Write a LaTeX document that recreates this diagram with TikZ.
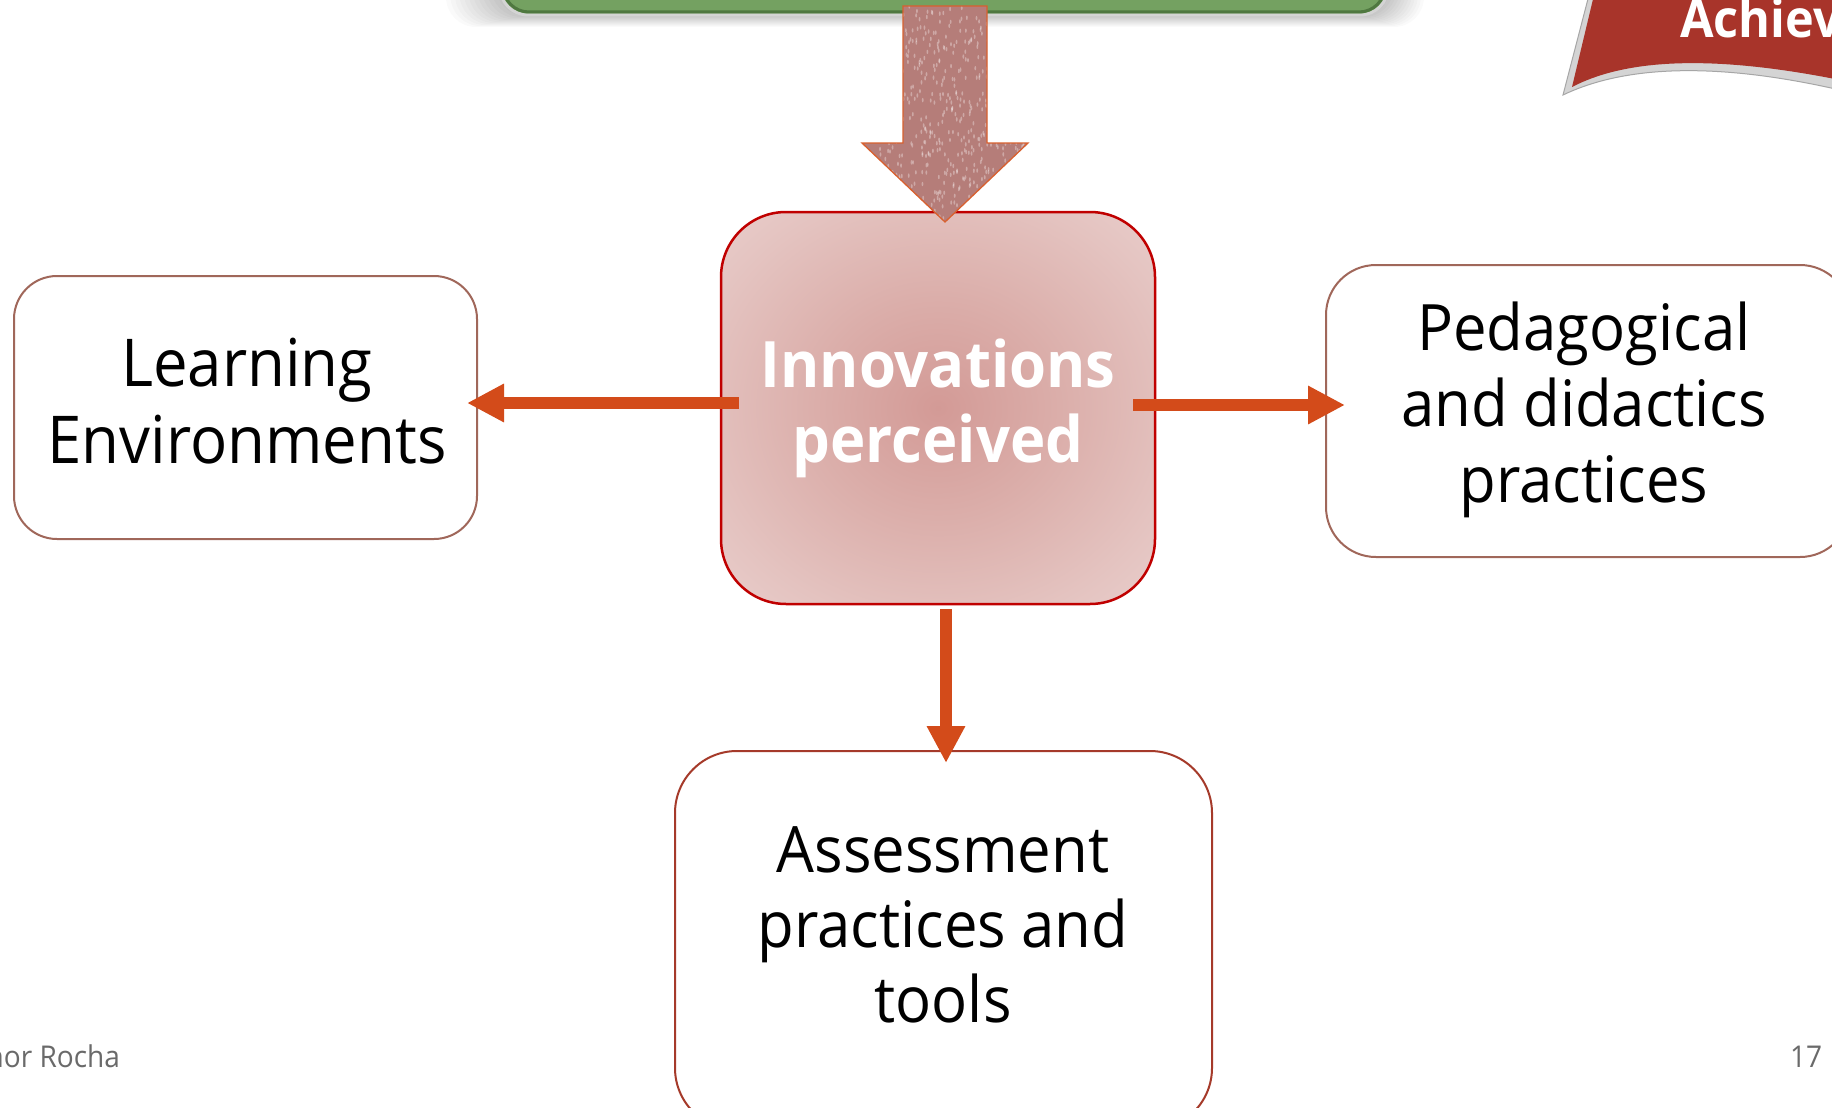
\documentclass[tikz,border=0pt]{standalone}
\usepackage{fontspec}
\setmainfont{Open Sans}[FakeStretch=0.935]
\usetikzlibrary{arrows.meta}

\definecolor{connc}{HTML}{D34B1A}
\definecolor{boxline}{HTML}{A0675A}
\definecolor{boxlinedark}{HTML}{A53A2A}
\definecolor{innline}{HTML}{C00000}
\definecolor{innin}{HTML}{D39A96}
\definecolor{innmid}{HTML}{DBAEAA}
\definecolor{innmid2}{HTML}{E4C3C0}
\definecolor{innmid3}{HTML}{EBD3D1}
\definecolor{innout}{HTML}{EEDCDB}
\definecolor{bigarrow}{HTML}{B57D79}
\definecolor{bigarrowline}{HTML}{D8602F}
\definecolor{goalfill}{HTML}{74A161}
\definecolor{goaldark}{HTML}{4F7840}
\definecolor{bannerred}{HTML}{A8342A}
\definecolor{bannerrim}{HTML}{D4D4D4}
\definecolor{footgray}{HTML}{6A6A6A}

\pgfdeclareradialshading{innshade}{\pgfpoint{0bp}{0bp}}{%
  color(0bp)=(innin); color(14bp)=(innmid); color(28bp)=(innmid2);
  color(40bp)=(innmid3); color(50bp)=(innout)}

% centred lines whose base is the baseline of the first line
\newcommand\stacklines[2]{\vtop{\baselineskip=#1\lineskiplimit=-100pt\lineskip=0pt
  \halign{\hfil##\hfil\cr#2\crcr}}}

\tikzset{
  roundbox/.style={draw=boxline, line width=2pt, fill=white, inner sep=0pt, outer sep=0pt},
  innbox/.style={draw=innline, line width=2.5pt, shading=innshade, inner sep=0pt,
    outer sep=0pt, rounded corners=65pt, minimum width=434pt, minimum height=392pt},
  txt/.style={inner sep=0pt, outer sep=0pt, anchor=base, text=black},
  conn/.style={draw=connc, line width=12pt,
    -{Triangle[length=37pt, width=36pt]}},
  foot/.style={inner sep=0pt, outer sep=0pt, text=footgray,
    font=\fontsize{30}{36}\selectfont},
}

\begin{document}
\begin{tikzpicture}[x=1pt, y=-1pt]
\useasboundingbox (0,0) rectangle (1832,1108);
\clip (0,0) rectangle (1832,1108);
\fill[white] (0,0) rectangle (1832,1108);

% soft shadow under the green goal box
\foreach \i in {1,...,12}{
  \fill[black, opacity=0.018, rounded corners=30pt]
    (500-4.5*\i,-60) rectangle (1388+3*\i,15+1.0*\i);
}
% green goal box
\node[draw=bannerrim, line width=3pt, fill=goalfill, rounded corners=28pt,
  minimum width=888pt, minimum height=80pt, inner sep=0pt] (goal) at (944,-25) {};
\draw[goaldark, line width=3pt, rounded corners=26pt]
  (503,-20) -- (503,12) -- (1385,12) -- (1385,-20);

% banner in the upper right corner
\fill[bannerrim, draw=gray!70, line width=1pt]
  (1589,-5) -- (1563,95) .. controls (1615,70) and (1700,58) .. (1840,90)
  -- (1840,-5) -- cycle;
\fill[bannerred]
  (1594,-5) -- (1572,87) .. controls (1620,62) and (1700,52) .. (1840,80)
  -- (1840,-5) -- cycle;
\node[inner sep=0pt, anchor=base west, text=white,
  font=\fontsize{52}{60}\selectfont\bfseries] (banner) at (1680,38) {Achiev};

% boxes
\node[roundbox, rounded corners=43pt, minimum width=463pt, minimum height=263pt]
  (learn) at (245.5,407.5) {};
\node[roundbox, rounded corners=50pt, minimum width=524pt, minimum height=292pt]
  (ped) at (1588,411) {};
\node[roundbox, draw=boxlinedark, rounded corners=62pt, minimum width=537pt,
  minimum height=379pt] (assess) at (943.5,940.5) {};
\node[innbox] (inn) at (938,408) {};

% box texts
\node[txt] (learn-t) at (247,386)
  {\fontsize{66}{77}\selectfont\stacklines{77pt}{Learning\cr Environments}};
\node[txt] (ped-t) at (1584,350)
  {\fontsize{64}{76}\selectfont\stacklines{76pt}{Pedagogical\cr and didactics\cr practices}};
\node[txt] (assess-t) at (943,872)
  {\fontsize{64}{75}\selectfont\stacklines{75pt}{Assessment\cr practices and\cr tools}};
\node[txt, text=white] (inn-t) at (938,387)
  {\fontsize{64}{75}\selectfont\bfseries\stacklines{75pt}{Innovations\cr perceived}};

% block arrow from the goal box down to the central box
\def\bigarrowpath{(903,6) -- (987,6) -- (987,143) -- (1028,143) -- (945,222)
  -- (862,143) -- (903,143) -- cycle}
\fill[bigarrow] \bigarrowpath;
\begin{scope}
  \clip \bigarrowpath;
  \pgfmathsetseed{4217}
  \foreach \k in {1,...,650}{
    \pgfmathsetmacro\px{862+166*rnd}
    \pgfmathsetmacro\py{6+216*rnd}
    \fill[white, opacity=0.33] (\px,\py) ellipse (0.9pt and 2.2pt);
  }
\end{scope}
\draw[bigarrowline, line width=1.3pt, line join=miter] \bigarrowpath;

% connectors
\draw[conn] ([xshift=18pt,yshift=5pt]inn.west) -- ([xshift=-10pt,yshift=4.5pt]learn.east);
\draw[conn] ([xshift=-22pt,yshift=3pt]inn.east) -- ([xshift=19pt,yshift=6pt]ped.west);
\draw[conn] ([xshift=8pt,yshift=-5pt]inn.south) -- ([xshift=2.5pt,yshift=-12pt]assess.north);

% footer
\node[foot, anchor=base east] (author) at (120,1067) {nor Rocha};
\node[foot, anchor=base west] (pageno) at (1790,1067) {17 I};
\end{tikzpicture}
\end{document}
